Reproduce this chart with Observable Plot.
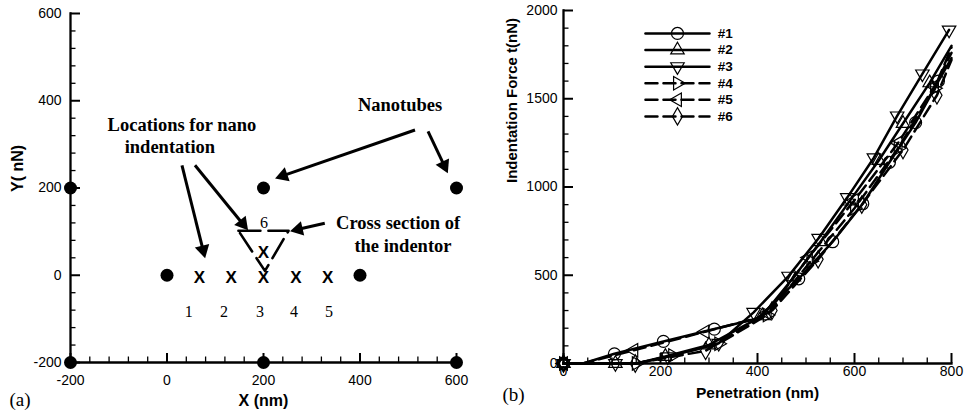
<!DOCTYPE html>
<html><head><meta charset="utf-8">
<script src="https://cdn.jsdelivr.net/npm/d3@7"></script>
<script src="https://cdn.jsdelivr.net/npm/@observablehq/plot@0.6"></script>
<style>
html,body{margin:0;padding:0;background:#fff;overflow:hidden}
#wrap{position:relative;width:966px;height:416px;background:#fff}
#wrap > svg{position:absolute;top:0;max-width:none !important;width:483px !important;height:416px !important}
#wrap > svg.pa{left:0} #wrap > svg.pb{left:483px}
</style>
</head><body><div id="wrap"></div><script>
// ---------- Panel (a) data ----------
const tubeX = [-200, 200, 600, 0, 400, -200, 200, 600];
const tubeY = [200, 200, 200, 0, 0, -200, -200, -200];
const siteX = [67, 133, 200, 267, 333, 200];
const siteY = [0, 0, 0, 0, 0, 57];
const siteLabel = ["1", "2", "3", "4", "5", "6"];
const siteLabelX = [45, 118, 193, 263, 336, 201];
const siteLabelY = [-85, -85, -85, -85, -85, 121];
const indentorX = [148, 252, 203, 148];
const indentorY = [102, 102, 10, 102];
const noteText = ["Locations for nano", "indentation", "Nanotubes", "Cross section of", "the indentor"];
const noteX = [31, 6, 483, 479, 489];
const noteY = [344, 294, 390, 119, 67];
const arrowX1 = [31, 58, 514, 541, 327];
const arrowY1 = [252, 252, 333, 330, 119];
const arrowX2 = [79, 168, 224, 582, 255];
const arrowY2 = [39, 103, 222, 234, 101];
const ticksXA = [-200, 0, 200, 400, 600];
const ticksYA = [-200, 0, 200, 400, 600];

// ---------- Panel (b) data ----------
const seriesNames = ["#1", "#2", "#3", "#4", "#5", "#6"];
const pen1 = [0, 40, 105, 206, 311, 400, 485, 555, 617, 672, 726, 773, 800];
const frc1 = [0, 0, 55, 125, 195, 255, 480, 690, 905, 1140, 1365, 1600, 1730];
const mk1  = [1, 0, 1, 1, 1, 0, 1, 1, 1, 1, 1, 1, 0];
const pen2 = [0, 107, 150, 210, 300, 410, 475, 530, 590, 650, 700, 755, 800];
const frc2 = [0, 0, 0, 40, 105, 270, 490, 690, 920, 1150, 1360, 1590, 1800];
const mk2  = [1, 1, 0, 1, 1, 1, 1, 1, 1, 1, 1, 1, 0];
const pen3 = [0, 107, 150, 215, 320, 392, 464, 526, 585, 640, 688, 740, 795];
const frc3 = [0, 0, 0, 38, 115, 290, 495, 710, 940, 1166, 1403, 1641, 1890];
const mk3  = [1, 1, 0, 1, 1, 1, 1, 1, 1, 1, 1, 1, 1];
const pen4 = [0, 150, 225, 320, 420, 510, 600, 690, 765, 800];
const frc4 = [0, 0, 45, 112, 275, 580, 880, 1220, 1560, 1790];
const mk4  = [1, 1, 1, 1, 1, 1, 1, 1, 1, 0];
const pen5 = [0, 40, 145, 292, 400, 420, 505, 600, 690, 765, 800];
const frc5 = [0, 0, 75, 180, 258, 285, 600, 925, 1250, 1570, 1760];
const mk5  = [1, 0, 1, 1, 0, 1, 1, 1, 1, 1, 0];
const pen6 = [0, 148, 293, 430, 525, 615, 700, 770, 800];
const frc6 = [0, 0, 72, 300, 590, 900, 1210, 1520, 1720];
const mk6  = [1, 1, 1, 1, 1, 1, 1, 1, 0];
const ticksXB = [0, 200, 400, 600, 800];
const ticksYB = [0, 500, 1000, 1500, 2000];

// ---------- styling ----------
const SANS = "Liberation Sans, Arial, Helvetica, sans-serif";
const SERIF = "Liberation Serif, Times New Roman, serif";
const fmt = d => String(d);

// axis marks: labels plus inward-pointing major and minor ticks, and the axis lines
function axesMarks(tx, ty, mx, my, padX, padY, majX, majY) {
  return [
    Plot.frame({anchor: "bottom", stroke: "black", strokeWidth: 2.3}),
    Plot.frame({anchor: "left", stroke: "black", strokeWidth: 2.3}),
    Plot.axisX(tx, {tickSize: 0, tickPadding: padX, tickFormat: fmt, label: null, fontSize: 14}),
    Plot.axisY(ty, {tickSize: 0, tickPadding: padY, tickFormat: fmt, label: null, fontSize: 14}),
    Plot.axisX(tx, {tickSize: -majX, text: null, label: null, strokeWidth: 2}),
    Plot.axisX(mx, {tickSize: -5.5, text: null, label: null, strokeWidth: 1.3}),
    Plot.axisY(ty, {tickSize: -majY, text: null, label: null, strokeWidth: 2}),
    Plot.axisY(my, {tickSize: -5.5, text: null, label: null, strokeWidth: 1.3})
  ];
}

// ---------- Panel (a) ----------
const FA = {w: 483, h: 416, l: 70, r: 27, t: 13, b: 54};
const faW = FA.w - FA.l - FA.r, faH = FA.h - FA.t - FA.b;
const kxA = faW / 800, kyA = faH / 800;
const headR = 5.5;
const tipPx = 2 * Math.sqrt(Math.PI * headR * headR / (Math.sqrt(3) * 3));
const arrows = arrowX1.map((x1, i) => {
  const y1 = arrowY1[i], x2 = arrowX2[i], y2 = arrowY2[i];
  const dxp = (x2 - x1) * kxA, dyp = -(y2 - y1) * kyA;
  const L = Math.hypot(dxp, dyp);
  const ux = dxp / L, uy = dyp / L;
  return {x1, y1, hx: x2 - ux * tipPx / kxA, hy: y2 + uy * tipPx / kyA,
          rot: Math.atan2(dxp, -dyp) * 180 / Math.PI};
});
const minorXA = d3.range(-200, 601, 40).filter(v => !ticksXA.includes(v));
const minorYA = d3.range(-200, 601, 40).filter(v => !ticksYA.includes(v));
const tubes = tubeX.map((x, i) => ({x, y: tubeY[i]}));
const sites = siteX.map((x, i) => ({x, y: siteY[i]}));
const siteLabels = siteLabel.map((t, i) => ({t, x: siteLabelX[i], y: siteLabelY[i]}));
const notes = noteText.map((t, i) => ({t, x: noteX[i], y: noteY[i]}));
const indentor = indentorX.map((x, i) => ({x, y: indentorY[i]}));

const chartA = Plot.plot({
  width: FA.w, height: FA.h,
  marginLeft: FA.l, marginRight: FA.r, marginTop: FA.t, marginBottom: FA.b,
  style: {fontFamily: SANS, fontSize: "14px", background: "white", color: "black", overflow: "visible"},
  x: {domain: [-200, 600]},
  y: {domain: [-200, 600]},
  marks: [
    ...axesMarks(ticksXA, ticksYA, minorXA, minorYA, 13, 9, 9, 10),
    Plot.dot(tubes, {x: "x", y: "y", r: 6.5, fill: "black", stroke: "none"}),
    Plot.text(sites, {x: "x", y: "y", text: () => "X", fontSize: 17, fontWeight: "bold", dy: 2}),
    Plot.text(siteLabels, {x: "x", y: "y", text: "t", fontSize: 16, fontFamily: SERIF}),
    Plot.line(indentor, {x: "x", y: "y", stroke: "black", strokeWidth: 2.6, strokeDasharray: "22,8"}),
    Plot.link(arrows, {x1: "x1", y1: "y1", x2: "hx", y2: "hy", stroke: "black", strokeWidth: 3}),
    Plot.dot(arrows, {x: "hx", y: "hy", r: headR, symbol: "triangle", rotate: "rot", fill: "black", stroke: "none"}),
    Plot.text(notes, {x: "x", y: "y", text: "t", fontSize: 18.5, fontWeight: "bold", fontFamily: SERIF}),
    Plot.text(["Y( nN)"], {frameAnchor: "left", dx: -53, dy: 4, rotate: -90, text: d => d, fontSize: 16, fontWeight: "bold"}),
    Plot.text(["X (nm)"], {frameAnchor: "bottom", dy: 43, text: d => d, fontSize: 16, fontWeight: "bold"}),
    Plot.text(["(a)"], {frameAnchor: "bottom-left", dx: -61, dy: 43, textAnchor: "start", text: d => d, fontSize: 19, fontFamily: SERIF})
  ]
});

// ---------- Panel (b) ----------
const FB = {w: 483, h: 416, l: 80, r: 15, t: 10, b: 53};
const pens = [pen1, pen2, pen3, pen4, pen5, pen6];
const frcs = [frc1, frc2, frc3, frc4, frc5, frc6];
const mks = [mk1, mk2, mk3, mk4, mk5, mk6];
const rows = [];
seriesNames.forEach((s, k) => pens[k].forEach((x, i) => rows.push({s, k, x, y: frcs[k][i], m: mks[k][i]})));
const symbolOf = ["circle", "triangle", "triangle", "triangle", "triangle", "diamond"];
const rotOf = [0, 0, 180, 90, -90, 0];
const rOf = [6, 5, 5, 5, 5, 5.3];
const dashed = k => k >= 3;
const DASH = "12,6";
const minorXB = d3.range(0, 801, 50).filter(v => !ticksXB.includes(v));
const minorYB = d3.range(0, 2001, 100).filter(v => !ticksYB.includes(v));

// legend layout (in data units of panel b)
const legTop = 1870, legStep = 94, legX1 = 169, legX2 = 301, legXm = 235, legXt = 318;
const legRows = seriesNames.map((s, k) => ({s, k, y: legTop - k * legStep}));
const legLines = legRows.flatMap(d => [{...d, x: legX1}, {...d, x: legX2}]);

const seriesMarks = [];
seriesNames.forEach((s, k) => {
  const pts = rows.filter(d => d.k === k && d.m === 1);
  seriesMarks.push(Plot.dot(pts, {x: "x", y: "y", r: rOf[k], symbol: symbolOf[k], rotate: rotOf[k], fill: "none", stroke: "black", strokeWidth: 1.2}));
  seriesMarks.push(Plot.dot([legRows[k]], {x: () => legXm, y: "y", r: rOf[k], symbol: symbolOf[k], rotate: rotOf[k], fill: "none", stroke: "black", strokeWidth: 1.2}));
});

const chartB = Plot.plot({
  width: FB.w, height: FB.h,
  marginLeft: FB.l, marginRight: FB.r, marginTop: FB.t, marginBottom: FB.b,
  style: {fontFamily: SANS, fontSize: "14px", background: "white", color: "black", overflow: "visible"},
  x: {domain: [0, 800]},
  y: {domain: [0, 2000]},
  marks: [
    ...axesMarks(ticksXB, ticksYB, minorXB, minorYB, 3, 6, 10, 10),
    Plot.line(rows.filter(d => !dashed(d.k)), {x: "x", y: "y", z: "s", stroke: "black", strokeWidth: 2.5}),
    Plot.line(rows.filter(d => dashed(d.k)), {x: "x", y: "y", z: "s", stroke: "black", strokeWidth: 2.5, strokeDasharray: DASH}),
    Plot.line(legLines.filter(d => !dashed(d.k)), {x: "x", y: "y", z: "s", stroke: "black", strokeWidth: 2.5}),
    Plot.line(legLines.filter(d => dashed(d.k)), {x: "x", y: "y", z: "s", stroke: "black", strokeWidth: 2.5, strokeDasharray: DASH}),
    ...seriesMarks,
    Plot.text(legRows, {x: () => legXt, y: "y", text: "s", textAnchor: "start", fontSize: 13.5, fontWeight: "bold"}),
    Plot.text(["Indentation Force t(nN)"], {frameAnchor: "left", dx: -51, dy: -4, rotate: -90, text: d => d, fontSize: 15, fontWeight: "bold"}),
    Plot.text(["Penetration (nm)"], {frameAnchor: "bottom", dy: 34, text: d => d, fontSize: 15.5, fontWeight: "bold"}),
    Plot.text(["(b)"], {frameAnchor: "bottom-left", dx: -61, dy: 37, textAnchor: "start", text: d => d, fontSize: 19, fontFamily: SERIF})
  ]
});

chartA.classList.add("pa");
chartB.classList.add("pb");
document.getElementById("wrap").append(chartA, chartB);
</script></body></html>
